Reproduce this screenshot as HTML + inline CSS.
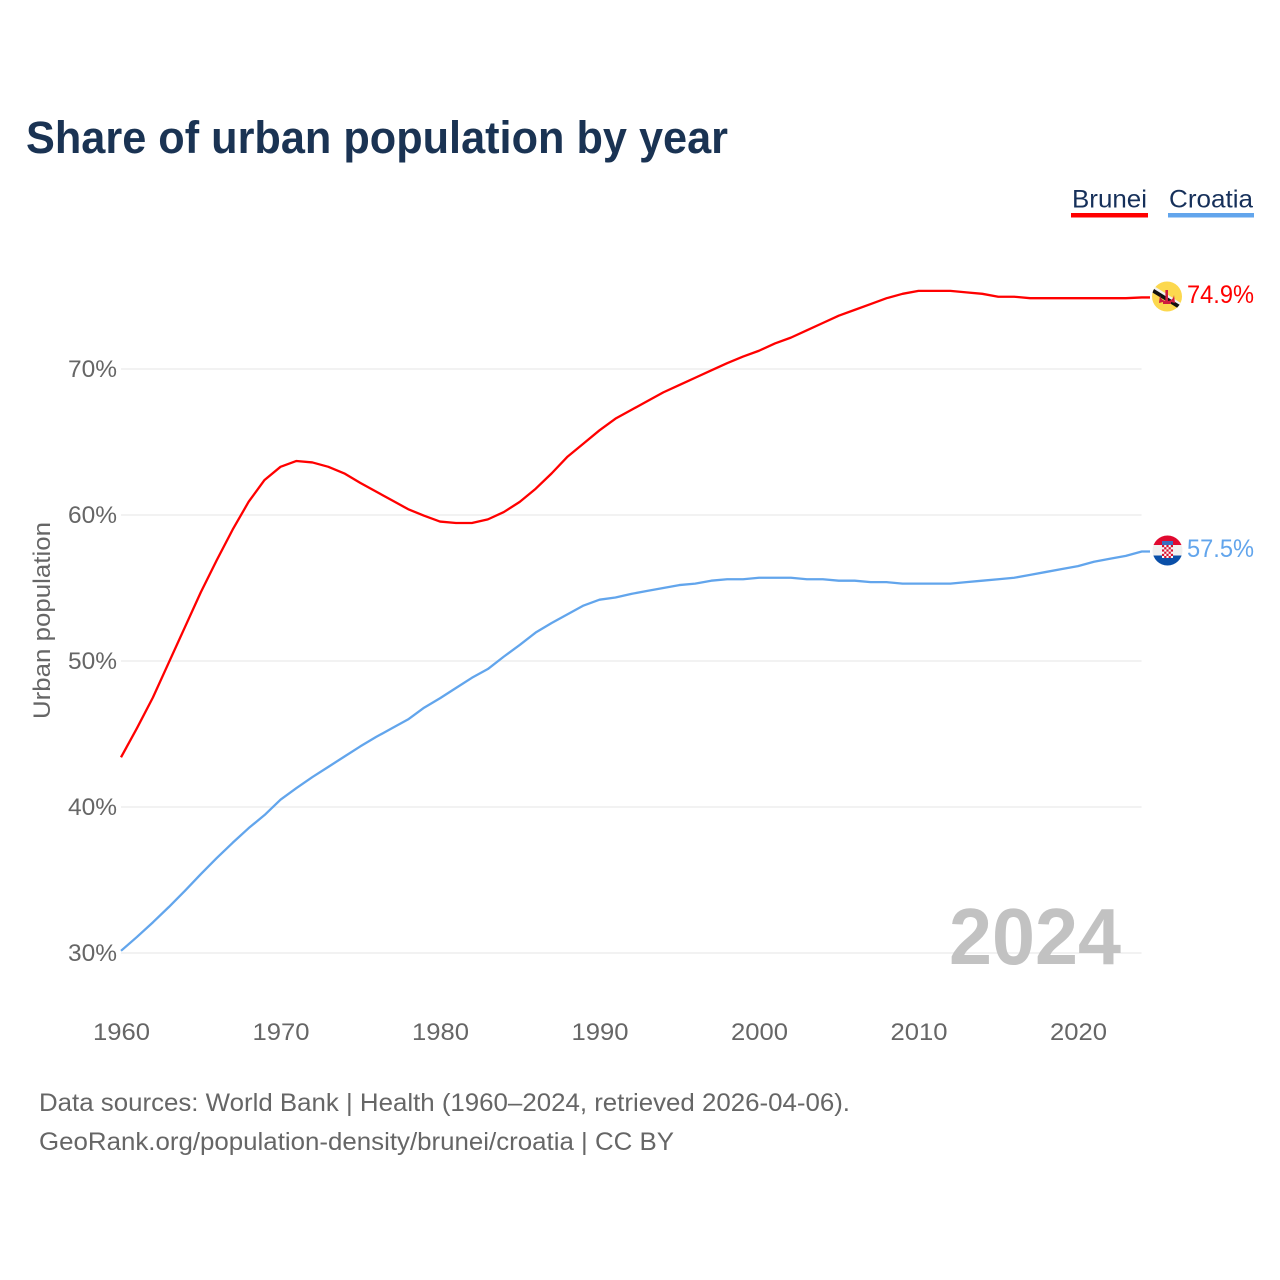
<!DOCTYPE html>
<html lang="en">
<head>
<meta charset="utf-8">
<title>Share of urban population by year</title>
<style>
html,body{margin:0;padding:0;background:#fff;width:1280px;height:1280px;overflow:hidden}
svg{display:block}
text{font-family:"Liberation Sans",sans-serif}
</style>
</head>
<body>
<svg id="chart" xmlns="http://www.w3.org/2000/svg" width="1280" height="1280" viewBox="0 0 1280 1280">
  <defs>
    <clipPath id="clip-brunei"><circle cx="1167" cy="296.5" r="15"/></clipPath>
    <clipPath id="clip-croatia"><circle cx="1167.5" cy="550.5" r="15"/></clipPath>
  </defs>
  <text x="26" y="153" font-size="45" font-weight="700" fill="#1a3353" textLength="702" lengthAdjust="spacingAndGlyphs">Share of urban population by year</text>

  <g id="grid"></g>
  <text x="949" y="964" font-size="80" font-weight="700" fill="#bfbfbf" fill-opacity="0.95" textLength="172" lengthAdjust="spacingAndGlyphs">2024</text>
  <g id="yticks"></g>
  <g id="xticks"></g>
  <text transform="translate(50,719) rotate(-90)" font-size="24" fill="#666" textLength="197" lengthAdjust="spacingAndGlyphs">Urban population</text>
  <g id="series"></g>

  <g>
    <text x="1072" y="207.5" font-size="25" fill="#16305a" textLength="75" lengthAdjust="spacingAndGlyphs">Brunei</text>
    <rect x="1071" y="213" width="77" height="4.5" fill="#ff0000"/>
  </g>
  <g>
    <text x="1169" y="207.5" font-size="25" fill="#16305a" textLength="84" lengthAdjust="spacingAndGlyphs">Croatia</text>
    <rect x="1168" y="213" width="86" height="4.5" fill="#62a5ec"/>
  </g>

  <g clip-path="url(#clip-brunei)">
    <rect x="1150" y="280" width="34" height="34" fill="#fcd84e"/>
    <polygon points="1150,283.5 1150,288 1184,309.5 1184,305" fill="#f2f2f2"/>
    <polygon points="1150,286.5 1150,291 1184,312 1184,307.5" fill="#111"/>
    <rect x="1165.4" y="290" width="2.6" height="12" fill="#cf1b3f"/>
    <path d="M1160 295 Q1161 301 1167 301 Q1173 301 1174 295 L1175 303 L1171 302 L1171 304 L1163 304 L1163 302 L1159 303 Z" fill="#cf1b3f"/>
  </g>
  <g clip-path="url(#clip-croatia)">
    <rect x="1150" y="535" width="36" height="10" fill="#e0092f"/>
    <rect x="1150" y="545" width="36" height="10.5" fill="#f0f0f0"/>
    <rect x="1150" y="555.5" width="36" height="12" fill="#0a4fa8"/>
    <rect x="1162" y="541" width="11" height="4" fill="#3a6fc0"/>
    <rect x="1162" y="545" width="11" height="13" fill="#f8f8f8"/>
    <g fill="#d8102f">
      <rect x="1162" y="545" width="2.2" height="2.2"/><rect x="1166.4" y="545" width="2.2" height="2.2"/><rect x="1170.8" y="545" width="2.2" height="2.2"/>
      <rect x="1164.2" y="547.2" width="2.2" height="2.2"/><rect x="1168.6" y="547.2" width="2.2" height="2.2"/>
      <rect x="1162" y="549.4" width="2.2" height="2.2"/><rect x="1166.4" y="549.4" width="2.2" height="2.2"/><rect x="1170.8" y="549.4" width="2.2" height="2.2"/>
      <rect x="1164.2" y="551.6" width="2.2" height="2.2"/><rect x="1168.6" y="551.6" width="2.2" height="2.2"/>
      <rect x="1162" y="553.8" width="2.2" height="2.2"/><rect x="1166.4" y="553.8" width="2.2" height="2.2"/><rect x="1170.8" y="553.8" width="2.2" height="2.2"/>
      <rect x="1164.2" y="556" width="2.2" height="2"/><rect x="1168.6" y="556" width="2.2" height="2"/>
    </g>
  </g>
  <g id="endlabels"></g>

  <text x="39" y="1111" font-size="25" fill="#666" textLength="811" lengthAdjust="spacingAndGlyphs">Data sources: World Bank | Health (1960–2024, retrieved 2026-04-06).</text>
  <text x="39" y="1150" font-size="25" fill="#666" textLength="635" lengthAdjust="spacingAndGlyphs">GeoRank.org/population-density/brunei/croatia | CC BY</text>
</svg>
<script>
const years = [1960,1961,1962,1963,1964,1965,1966,1967,1968,1969,1970,1971,1972,1973,1974,1975,1976,1977,1978,1979,1980,1981,1982,1983,1984,1985,1986,1987,1988,1989,1990,1991,1992,1993,1994,1995,1996,1997,1998,1999,2000,2001,2002,2003,2004,2005,2006,2007,2008,2009,2010,2011,2012,2013,2014,2015,2016,2017,2018,2019,2020,2021,2022,2023,2024];
const bruneiValues = [43.4,45.4,47.5,49.9,52.3,54.7,56.9,59.0,60.9,62.4,63.3,63.7,63.6,63.3,62.85,62.2,61.6,61.0,60.4,59.95,59.55,59.45,59.45,59.7,60.2,60.9,61.8,62.85,64.0,64.9,65.8,66.6,67.2,67.8,68.4,68.9,69.4,69.9,70.4,70.85,71.25,71.75,72.15,72.65,73.15,73.65,74.05,74.45,74.85,75.15,75.35,75.35,75.35,75.25,75.15,74.95,74.95,74.85,74.85,74.85,74.85,74.85,74.85,74.85,74.9];
const croatiaValues = [30.15,31.1,32.1,33.15,34.25,35.4,36.5,37.55,38.55,39.45,40.5,41.3,42.05,42.75,43.45,44.15,44.8,45.4,46.0,46.8,47.45,48.15,48.85,49.45,50.3,51.1,51.95,52.6,53.2,53.8,54.2,54.35,54.6,54.8,55.0,55.2,55.3,55.5,55.6,55.6,55.7,55.7,55.7,55.6,55.6,55.5,55.5,55.4,55.4,55.3,55.3,55.3,55.3,55.4,55.5,55.6,55.7,55.9,56.1,56.3,56.5,56.8,57.0,57.2,57.5];
const yTickValues = [30,40,50,60,70];
const xTickValues = [1960,1970,1980,1990,2000,2010,2020];

const NS = 'http://www.w3.org/2000/svg';
function xScale(year){ return 121 + (year - 1960) * 15.95; }
function yScale(value){ return 953 - (value - 30) * 14.6; }
function make(tag, parent){ const el = document.createElementNS(NS, tag); parent.appendChild(el); return el; }

const grid = document.getElementById('grid');
const yticks = document.getElementById('yticks');
yTickValues.forEach(function(v){
  const line = make('line', grid);
  
  
  line.setAttribute('x1', 121);
  line.setAttribute('x2', 1141.5);
  line.setAttribute('y1', yScale(v));
  line.setAttribute('y2', yScale(v));
  line.setAttribute('stroke', '#eeeeee');
  line.setAttribute('stroke-width', '1.5');
  const t = make('text', yticks);
  
  
  t.setAttribute('x', 68);
  t.setAttribute('y', yScale(v) + 8);
  t.setAttribute('font-size', '24');
  t.setAttribute('fill', '#666');
  t.setAttribute('textLength', '49');
  t.setAttribute('lengthAdjust', 'spacingAndGlyphs');
  t.textContent = v + '%';
});

const xticks = document.getElementById('xticks');
xTickValues.forEach(function(y){
  const t = make('text', xticks);
  
  
  t.setAttribute('x', xScale(y) - 28);
  t.setAttribute('y', 1040);
  t.setAttribute('font-size', '24');
  t.setAttribute('fill', '#666');
  t.setAttribute('textLength', '57');
  t.setAttribute('lengthAdjust', 'spacingAndGlyphs');
  t.textContent = y;
});

const series = document.getElementById('series');
const endlabels = document.getElementById('endlabels');
function drawSeries(values, color, lineName, labelName){
  let d = years.map(function(y, i){ return (i ? 'L' : 'M') + xScale(y).toFixed(2) + ' ' + yScale(values[i]).toFixed(2); }).join(' ');
  const lastY = yScale(values[values.length - 1]);
  d += ' L1150 ' + lastY.toFixed(2);
  const p = make('path', series);
  
  
  p.setAttribute('d', d);
  p.setAttribute('fill', 'none');
  p.setAttribute('stroke', color);
  p.setAttribute('stroke-width', '2.3');
  p.setAttribute('stroke-linejoin', 'round');
  const t = make('text', endlabels);
  
  
  t.setAttribute('x', 1187);
  t.setAttribute('y', lastY + 5.5);
  t.setAttribute('font-size', '25');
  t.setAttribute('fill', color);
  t.setAttribute('textLength', '67');
  t.setAttribute('lengthAdjust', 'spacingAndGlyphs');
  t.textContent = values[values.length - 1].toFixed(1) + '%';
}
drawSeries(bruneiValues, '#ff0000', 'brunei-line', 'brunei-end-label');
drawSeries(croatiaValues, '#62a5ec', 'croatia-line', 'croatia-end-label');
</script>
</body>
</html>
